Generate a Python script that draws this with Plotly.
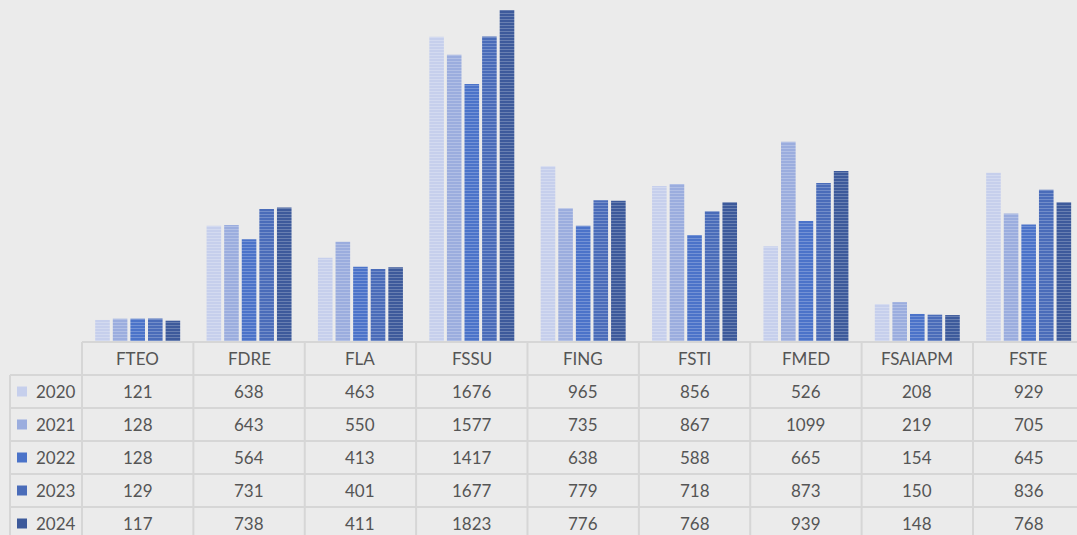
import plotly.graph_objects as go

faculties = ['FTEO', 'FDRE', 'FLA', 'FSSU', 'FING', 'FSTI', 'FMED', 'FSAIAPM', 'FSTE']
years = ['2020', '2021', '2022', '2023', '2024']
v2020 = [121, 638, 463, 1676, 965, 856, 526, 208, 929]
v2021 = [128, 643, 550, 1577, 735, 867, 1099, 219, 705]
v2022 = [128, 564, 413, 1417, 638, 588, 665, 154, 645]
v2023 = [129, 731, 401, 1677, 779, 718, 873, 150, 836]
v2024 = [117, 738, 411, 1823, 776, 768, 939, 148, 768]
series = [v2020, v2021, v2022, v2023, v2024]
colors = ['#c6cfec', '#9badde', '#4b73c9', '#4a6cb9', '#3d5a9b']

W, H = 1077, 535
PLOT_BOTTOM = 342      # px, bottom of the plot area
ROW_H = 33             # px per table row
LEFT = 82              # px, left edge of the plot / first data column
XR = [-0.5, 8.434]     # category range, last column is cut off
BG = '#ebebeb'
GRID = '#d6d6d6'
TXT = '#555555'

dom0 = LEFT / W


def xpaper(v):
    """Category coordinate -> paper x."""
    return dom0 + (v - XR[0]) / (XR[1] - XR[0]) * (1 - dom0)


def ypaper(px):
    """Pixel row (from top) -> paper y."""
    return (PLOT_BOTTOM - px) / PLOT_BOTTOM


fig = go.Figure()
for yr, vals, c in zip(years, series, colors):
    fig.add_trace(go.Bar(
        x=list(range(len(faculties))), y=vals, name=yr,
        marker=dict(color=c, line=dict(width=0),
                    pattern=dict(shape='-', size=3, solidity=0.35,
                                 fgcolor='rgba(255,255,255,0.45)', fillmode='overlay')),
        hoverinfo='skip'))

shapes = []
annotations = []
line = dict(color=GRID, width=2)

# horizontal grid lines of the data table
for k in range(6):
    y = ypaper(PLOT_BOTTOM + k * ROW_H)
    x0 = 10 / W if k > 0 else dom0
    shapes.append(dict(type='line', xref='paper', yref='paper', x0=x0, x1=1, y0=y, y1=y, line=line))
# vertical lines
for i in range(len(faculties)):
    xp = xpaper(i - 0.5)
    shapes.append(dict(type='line', xref='paper', yref='paper', x0=xp, x1=xp,
                       y0=ypaper(PLOT_BOTTOM), y1=ypaper(H + 5), line=line))
shapes.append(dict(type='line', xref='paper', yref='paper', x0=10 / W, x1=10 / W,
                   y0=ypaper(PLOT_BOTTOM + ROW_H), y1=ypaper(H + 5), line=line))

font = dict(family='Lato, Carlito, sans-serif', size=17, color=TXT)
txt = dict(showarrow=False, font=font, xanchor='center', yanchor='middle')

# header row
for i, f in enumerate(faculties):
    annotations.append(dict(x=i, xref='x', y=ypaper(PLOT_BOTTOM + ROW_H / 2), yref='paper',
                            text=f, **txt))
# data rows with legend keys
for r, (yr, vals, c) in enumerate(zip(years, series, colors)):
    cy = PLOT_BOTTOM + ROW_H * (r + 1) + ROW_H / 2
    shapes.append(dict(type='rect', xref='paper', yref='paper', x0=17 / W, x1=27 / W,
                       y0=ypaper(cy - 5), y1=ypaper(cy + 5), fillcolor=c, line=dict(width=0)))
    annotations.append(dict(x=56 / W, xref='paper', y=ypaper(cy), yref='paper',
                            text=yr, **txt))
    for i, v in enumerate(vals):
        annotations.append(dict(x=i, xref='x', y=ypaper(cy), yref='paper',
                                text=str(v), **txt))

fig.update_layout(
    width=W, height=H,
    margin=dict(t=0, b=H - PLOT_BOTTOM, l=0, r=0),
    paper_bgcolor=BG, plot_bgcolor=BG,
    barmode='group', bargap=0.21, bargroupgap=0.17,
    showlegend=False,
    xaxis=dict(domain=[dom0, 1], range=XR, showticklabels=False, showgrid=False,
               zeroline=False, showline=False, ticks=''),
    yaxis=dict(range=[0, 1878], visible=False, showgrid=False, zeroline=False),
    shapes=shapes, annotations=annotations,
)

fig.write_html('out.html', config={'displayModeBar': False},
               post_script="document.body.style.margin='0';document.body.style.background='#ebebeb';")
